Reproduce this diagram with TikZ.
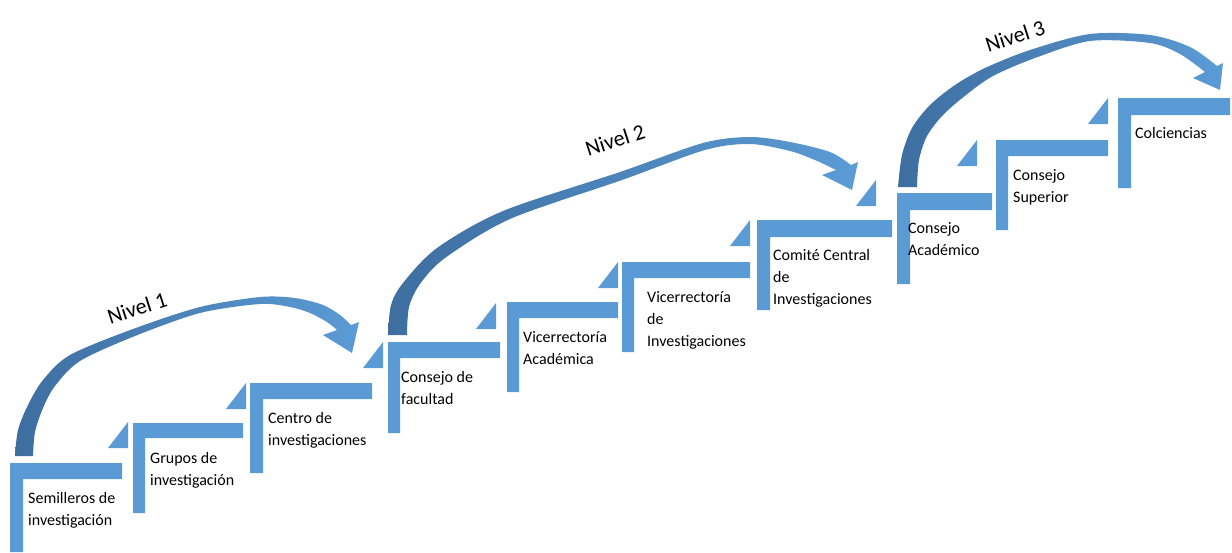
\documentclass[tikz,border=0pt]{standalone}
\usepackage{fontspec}
\setmainfont{Carlito}
\definecolor{stepblue}{RGB}{91,155,213}
\definecolor{arrowdark}{RGB}{62,110,160}

\begin{document}
\begin{tikzpicture}[x=1pt,y=-1pt,
    stepfill/.style={fill=stepblue},
    steplabel/.style={anchor=north west, inner sep=0pt, align=left,
        font=\fontsize{16}{22}\selectfont},
    nivlabel/.style={inner sep=0pt, rotate=18, font=\fontsize{22}{26}\selectfont},
    nivarrow/.style={left color=arrowdark, right color=stepblue}]
\useasboundingbox (0,0) rectangle (1232,552);

\coordinate (s1) at (10,463);
\coordinate (s2) at (133,423);
\coordinate (s3) at (250,383);
\coordinate (s4) at (388,342);
\coordinate (s5) at (507,302);
\coordinate (s6) at (622,262);
\coordinate (s7) at (757,220);
\coordinate (s8) at (897,193);
\coordinate (s9) at (996,140);
\coordinate (s10) at (1118,98);

\coordinate (t1) at (128,422);
\coordinate (t2) at (246,383);
\coordinate (t3) at (383,342);
\coordinate (t4) at (496,303);
\coordinate (t5) at (618,262);
\coordinate (t6) at (750,220);
\coordinate (t7) at (876,180);
\coordinate (t8) at (977,140);
\coordinate (t9) at (1108,98);

% steps
\fill[stepfill] (s1) rectangle ++(112,16) (s1) rectangle ++(13,89);
\fill[stepfill] (s2) rectangle ++(110,15) (s2) rectangle ++(12,90);
\fill[stepfill] (s3) rectangle ++(122,16) (s3) rectangle ++(13,90);
\fill[stepfill] (s4) rectangle ++(112,16) (s4) rectangle ++(12,91);
\fill[stepfill] (s5) rectangle ++(111,16) (s5) rectangle ++(12,90);
\fill[stepfill] (s6) rectangle ++(128,16) (s6) rectangle ++(12,90);
\fill[stepfill] (s7) rectangle ++(135,17) (s7) rectangle ++(13,90);
\fill[stepfill] (s8) rectangle ++(95,17) (s8) rectangle ++(13,91);
\fill[stepfill] (s9) rectangle ++(112,16) (s9) rectangle ++(12,90);
\fill[stepfill] (s10) rectangle ++(112,17) (s10) rectangle ++(13,90);

\fill[stepfill] (t1) -- ++(0,26) -- ++(-20,0) -- cycle;
\fill[stepfill] (t2) -- ++(0,26) -- ++(-20,0) -- cycle;
\fill[stepfill] (t3) -- ++(0,26) -- ++(-20,0) -- cycle;
\fill[stepfill] (t4) -- ++(0,26) -- ++(-20,0) -- cycle;
\fill[stepfill] (t5) -- ++(0,26) -- ++(-20,0) -- cycle;
\fill[stepfill] (t6) -- ++(0,26) -- ++(-20,0) -- cycle;
\fill[stepfill] (t7) -- ++(0,26) -- ++(-20,0) -- cycle;
\fill[stepfill] (t8) -- ++(0,26) -- ++(-20,0) -- cycle;
\fill[stepfill] (t9) -- ++(0,26) -- ++(-20,0) -- cycle;

\node[steplabel] (semilleros) at (28,492) {Semilleros de\\investigación};
\node[steplabel] (grupos) at (150,452) {Grupos de\\investigación};
\node[steplabel] (centro) at (268,412) {Centro de\\investigaciones};
\node[steplabel] (facultad) at (401,371) {Consejo de\\facultad};
\node[steplabel] (vicacad) at (523,331) {Vicerrectoría\\Académica};
\node[steplabel] (vicinv) at (647,291) {Vicerrectoría\\de\\Investigaciones};
\node[steplabel] (comite) at (773,249) {Comité Central\\de\\Investigaciones};
\node[steplabel] (cacad) at (908,222) {Consejo\\Académico};
\node[steplabel] (csuperior) at (1013,169) {Consejo\\Superior};
\node[steplabel] (colciencias) at (1135,127) {Colciencias};

% level arrows
\coordinate (n1in) at (323,335);
\coordinate (n1tip) at (352,353);
\coordinate (n1out) at (359,322);
\coordinate (n2in) at (822,175);
\coordinate (n2tip) at (852,190);
\coordinate (n2out) at (858,162);
\coordinate (n3in) at (1193,78);
\coordinate (n3tip) at (1220,90);
\coordinate (n3out) at (1223,63);

\shade[nivarrow] plot[smooth] coordinates {(15,456) (18,430) (28,405) (43,380) (70,355)
    (133,329) (200,307) (260,297) (295,298) (323,305) (340,315) (351,325)}
  -- (n1out) -- (n1tip) -- (n1in)
  -- plot[smooth] coordinates {(337,330) (327,322) (310,313) (290,307) (260,304)
    (200,313) (135,336) (80,361) (55,386) (43,408) (35,432) (33,456)} -- cycle;
\shade[nivarrow] plot[smooth] coordinates {(388,335) (391,305) (403,283) (437,248)
    (503,211) (620,172) (703,143) (750,137) (790,142) (830,152) (851,165)}
  -- (n2out) -- (n2tip) -- (n2in)
  -- plot[smooth] coordinates {(836,170) (815,160) (790,151) (750,144) (705,150)
    (622,180) (510,219) (445,258) (420,284) (409,307) (407,335)} -- cycle;
\shade[nivarrow] plot[smooth] coordinates {(898,187) (902,155) (912,128) (930,105)
    (955,85) (985,68) (1030,50) (1090,34) (1150,35) (1190,47) (1217,66)}
  -- (n3out) -- (n3tip) -- (n3in)
  -- plot[smooth] coordinates {(1205,72) (1180,54) (1150,43) (1090,41) (1035,58)
    (993,76) (966,95) (943,115) (927,136) (919,160) (917,187)} -- cycle;

\node[nivlabel] (niv1) at (137,308) {Nivel 1};
\node[nivlabel] (niv2) at (615,140) {Nivel 2};
\node[nivlabel] (niv3) at (1015,36) {Nivel 3};
\end{tikzpicture}
\end{document}
